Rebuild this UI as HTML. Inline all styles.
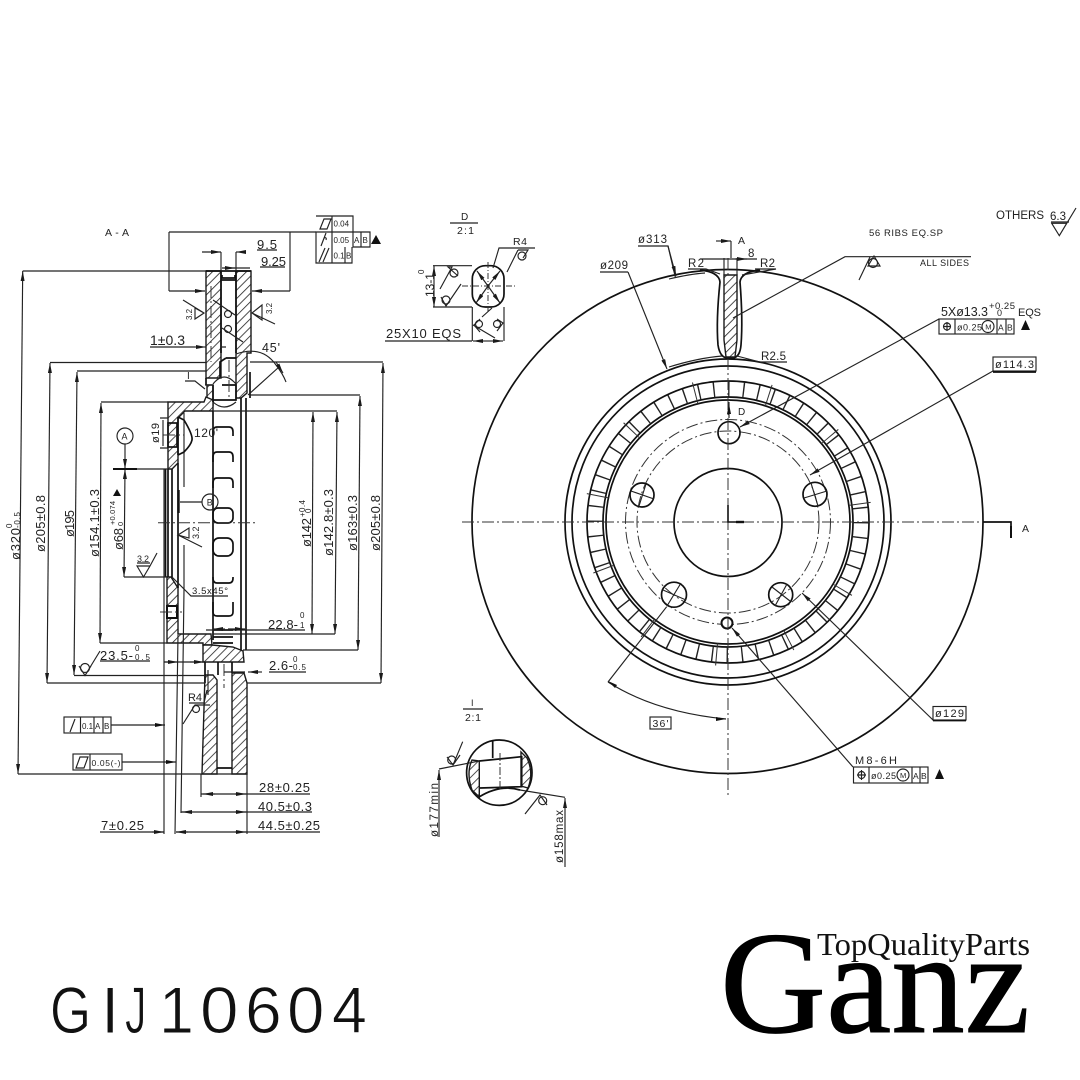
<!DOCTYPE html>
<html><head><meta charset="utf-8"><style>
html,body{margin:0;padding:0;background:#fff}
svg{display:block}
text{font-family:"Liberation Sans",sans-serif;fill:#222}
.l{stroke:#222;stroke-width:1.15;fill:none}
.t{stroke:#111;stroke-width:1.7;fill:none}
.c{stroke:#333;stroke-width:1;fill:none;stroke-dasharray:12 3 2 3}
.h{fill:url(#hat);stroke:#1a1a1a;stroke-width:1.4}
.g{fill:#111;stroke:#fff;stroke-width:.9;paint-order:fill stroke}
</style></head><body>
<svg width="1080" height="1080" viewBox="0 0 1080 1080" xmlns="http://www.w3.org/2000/svg">
<defs>
<pattern id="hat" width="6" height="6" patternUnits="userSpaceOnUse" patternTransform="rotate(45)"><rect width="6" height="6" fill="#fff"/><line x1="0" y1="0" x2="0" y2="6" stroke="#222" stroke-width="1.6"/></pattern>
<marker id="ar" viewBox="0 0 10 4" refX="10" refY="2" markerWidth="10" markerHeight="4" markerUnits="userSpaceOnUse" orient="auto"><path d="M0 0L10 2L0 4Z" fill="#1a1a1a"/></marker>
<marker id="al" viewBox="0 0 10 4" refX="0" refY="2" markerWidth="10" markerHeight="4" markerUnits="userSpaceOnUse" orient="auto"><path d="M10 0L0 2L10 4Z" fill="#1a1a1a"/></marker>
</defs>
<rect width="1080" height="1080" fill="#fff"/>

<!-- ============ SECTION VIEW ============ -->
<g>
<polygon class="h" points="206,271 221,271 221,378 206,378"/>
<polygon class="h" points="236,271 251,271 251,353 247,353 247,393 241,398 236,398"/>
<polygon class="h" points="207,385 213,385 213,405 207,400"/>
<polygon class="h" points="168,402 204,402 206,397 213,400 213,411 185,411 178,418 178,463 172,469 168,469"/>
<polygon class="h" points="167,577 171,577 178,588 178,634 211,634 212,645 203,645 203,643 167,643"/>
<polygon class="h" points="203,645 212,645 233,647 243,651 244,662 203,662"/>
<polygon class="h" points="232,673 244,673 247,683 247,774 232,774"/>
<polygon class="h" points="205,675 213,675 217,680 217,774 202,774"/>
<rect x="168" y="423" width="9" height="24" fill="#fff" class="t"/>
<rect x="167" y="606" width="10" height="12" fill="#fff" stroke="#111" stroke-width="2"/>
<path class="t" d="M206,378V385M221,280H236M222,275V278H235V275M206,271H251M221,271V353M236,271V353M205,662V683M218,662V675M232,662V673M217,768H232M226,358H236M220,378V362L226,358M222,385H236V400H213M213,385V402M213,411V640M241,398V650M246,398V650M250,398V372"/>
<path class="l" d="M213,384Q224,370 236,384M213,402Q224,412 236,402M205,385H213"/>
<path class="t" d="M168,469V577M172,469V577M178,463V588M165.5,469V577"/>
<path d="M178.5,490V513" stroke="#111" stroke-width="2.4"/>
<path class="l" d="M184,413V487M184,545V590"/>
<path class="t" d="M213,436V432Q213,427 217,427H229Q233,427 233,432V436M213,462V457Q213,452 217,452H229Q233,452 233,457V462M213,488V483Q213,478 217,478H229Q233,478 233,483V488"/>
<rect x="213" y="508" width="20" height="15" rx="5" fill="#fff" class="t"/>
<rect x="213" y="538" width="20" height="18" rx="6" fill="#fff" class="t"/>
<path class="t" d="M213,577V578Q213,583 217,583H229Q233,583 233,578V577M213,602V612Q213,616 217,616H229Q233,616 233,612V602M213,630H233M213,637H233M213,643H233"/>
<path class="t" d="M178,417L184,420Q193,435 192,440Q191,445 184,452L178,455M178,417V455"/>
<path class="c" d="M158,522.7H257M163,435H184M160,612H182M224,664V688M229,360V400M211,286V362"/>

<!-- dimension lines -->
<path class="l" d="M22.7,271H206M18,774H247M50,362.5H206M47,683H205M77,371H206M74,675.5H205M101,402H168M100,643H167M383,362H250M381,683H247M360,395H250M358,650H243M337,411H213M335,634H213M312,634H213"/>
<line class="l" x1="22.7" y1="271" x2="18" y2="774" marker-start="url(#al)" marker-end="url(#ar)"/>
<line class="l" x1="50" y1="363" x2="47" y2="683" marker-start="url(#al)" marker-end="url(#ar)"/>
<line class="l" x1="77" y1="372" x2="74" y2="675" marker-start="url(#al)" marker-end="url(#ar)"/>
<line class="l" x1="101" y1="403" x2="100" y2="643" marker-start="url(#al)" marker-end="url(#ar)"/>
<line class="l" x1="125" y1="444" x2="125" y2="469" marker-end="url(#ar)"/>
<line class="l" x1="125" y1="469" x2="124" y2="577" marker-start="url(#al)" marker-end="url(#ar)"/>
<path class="l" d="M124,577H167"/>
<path d="M113,469H137" stroke="#111" stroke-width="2"/>
<path class="l" d="M137,469H168"/>
<line class="l" x1="313" y1="412" x2="312" y2="634" marker-start="url(#al)" marker-end="url(#ar)"/>
<line class="l" x1="337" y1="412" x2="335" y2="634" marker-start="url(#al)" marker-end="url(#ar)"/>
<line class="l" x1="360" y1="396" x2="358" y2="650" marker-start="url(#al)" marker-end="url(#ar)"/>
<line class="l" x1="383" y1="363" x2="381" y2="683" marker-start="url(#al)" marker-end="url(#ar)"/>

<!-- top dims -->
<path class="l" d="M221,252V270M236,252V270M169,232H316M169,232V291M290,232V291M257,250H277M260,267H285M222,268H250"/>
<line class="l" x1="202" y1="252" x2="221" y2="252" marker-end="url(#ar)"/>
<line class="l" x1="246" y1="252" x2="236" y2="252" marker-end="url(#ar)"/>
<line class="l" x1="224" y1="268" x2="235" y2="268" marker-end="url(#ar)"/>
<line class="l" x1="169" y1="291" x2="205" y2="291" marker-end="url(#ar)"/>
<line class="l" x1="290" y1="291" x2="252" y2="291" marker-end="url(#ar)"/>
<path class="l" d="M150,347H195M221,347H226"/>
<line class="l" x1="195" y1="347" x2="206" y2="347" marker-end="url(#ar)"/>
<path class="l" d="M236,354Q262,345 276,365Q283,374 286,382M185,381H195L205,389M248,395L279,367"/>
<line class="l" x1="276" y1="362" x2="283" y2="373" marker-end="url(#ar)"/>

<!-- roughness symbols section -->
<path class="l" d="M183,300L204,313M195,308L204,313L195,319ZM252,313L275,324M252,313L262,305V320ZM213,300L235,315M222,328L243,342"/>
<circle class="l" cx="228" cy="314" r="3.5"/><circle class="l" cx="228" cy="329" r="3.5"/>
<path class="l" d="M178,535L202,547M178,535L189,528V538Z"/>
<path class="l" d="M137,563H150M137,566H150L143.5,577ZM150,566L157,553"/>

<!-- ø19 & A, B -->
<path class="l" d="M160,418H168M160,448H168M163,420V446"/>
<circle class="l" cx="125" cy="436" r="8"/>
<circle class="l" cx="210" cy="502" r="8"/>
<path class="l" d="M180,502H202"/>
<!-- lower dims -->
<path class="l" d="M164,469L164,834M178,635L175,834M184,590L181,813M201,774V797M247,774V834"/>
<path class="l" d="M164,662H203"/>
<line class="l" x1="164" y1="662" x2="178" y2="662" marker-end="url(#ar)"/>
<line class="l" x1="190" y1="662" x2="204" y2="662" marker-end="url(#ar)"/>
<path class="l" d="M100,661H150M268,630H305M206,630H268"/>
<line class="l" x1="225" y1="629" x2="213" y2="629" marker-end="url(#ar)"/>
<line class="l" x1="228" y1="629" x2="245" y2="629" marker-end="url(#ar)"/>
<path class="l" d="M269,672H306M224,672H245"/>
<line class="l" x1="262" y1="672" x2="248" y2="672" marker-end="url(#ar)"/>
<path class="l" d="M201,794H310M181,812H312M176,832H320M100,832H164"/>
<line class="l" x1="215" y1="794" x2="203" y2="794" marker-end="url(#ar)"/>
<line class="l" x1="235" y1="794" x2="246" y2="794" marker-end="url(#ar)"/>
<line class="l" x1="192" y1="812" x2="182" y2="812" marker-end="url(#ar)"/>
<line class="l" x1="235" y1="812" x2="246" y2="812" marker-end="url(#ar)"/>
<line class="l" x1="188" y1="832" x2="176" y2="832" marker-end="url(#ar)"/>
<line class="l" x1="235" y1="832" x2="246" y2="832" marker-end="url(#ar)"/>
<line class="l" x1="152" y1="832" x2="164" y2="832" marker-end="url(#ar)"/>
<path class="l" d="M172,577L191,596H228"/>
<path class="l" d="M208,670V695M189,703H204L207,690M183,724L195,705H210"/>
<circle class="l" cx="196" cy="709" r="3.5"/>
<path class="l" d="M85,675.5L100,651M79,666L85,675.5L91,666"/>
<circle class="l" cx="85" cy="668" r="4.5"/>

<!-- frames left -->
<path class="l" d="M316,216H353V247H370V232H316V263H352V247M332,216V263M345,247V263M361,232V247"/>
<path d="M320,229L324,219H331L327,229Z" class="l"/>
<path class="l" d="M321,246L326,233M324,238Q327,237 326,240M319,262L325,248M323,262L329,248"/>
<polygon points="371,244 381,244 376,235" fill="#111"/>
<rect class="l" x="64" y="717" width="47" height="16"/>
<path class="l" d="M80.5,717V733M94,717V733M103,717V733M111,725H165M70,732L75,719"/>
<rect class="l" x="73" y="754" width="49" height="16"/>
<path class="l" d="M90,754V770M122,762H176M76,768L80,757H88L84,768Z"/>
<polygon points="155,723 165,725 155,727" fill="#111"/><polygon points="166,760 176,762 166,764" fill="#111"/>
<polygon points="113,496 121,496 117,489" fill="#111"/>
</g>

<!-- ============ FRONT VIEW ============ -->
<g>
<ellipse class="t" cx="727.5" cy="521.5" rx="255.5" ry="252"/>
<circle class="t" cx="728" cy="522" r="163"/>
<circle class="t" cx="728" cy="522" r="156"/>
<circle class="t" cx="728" cy="522" r="141"/>
<circle class="t" cx="728" cy="522" r="125"/>
<circle class="t" cx="728" cy="522" r="122"/>
<circle cx="728" cy="522" r="133" fill="none" stroke="#222" stroke-width="15" stroke-dasharray="1.4 13.52"/>
<circle cx="728" cy="522" r="133" fill="none" stroke="#333" stroke-width="22" stroke-dasharray="1 73.6" stroke-dashoffset="4"/>
<circle class="c" cx="728" cy="522" r="102.5" stroke-dasharray="14 3 2 3"/>
<circle class="c" cx="728" cy="522" r="91" stroke-dasharray="14 3 2 3"/>
<circle class="t" cx="728" cy="522.5" r="54"/>
<circle class="t" cx="729" cy="432.7" r="11" fill="#fff"/>
<circle class="t" cx="642" cy="495" r="12" fill="#fff"/>
<circle class="t" cx="815" cy="494.3" r="12" fill="#fff"/>
<circle class="t" cx="674" cy="594.7" r="12.5" fill="#fff"/>
<circle class="t" cx="780.7" cy="594.7" r="12" fill="#fff"/>
<circle cx="727" cy="623" r="5.5" fill="#fff" stroke="#111" stroke-width="2"/>
<path class="c" d="M462,522H983M728,258V795"/>
<path class="l" d="M631,491L654,499M646,484L639,506M804,498L827,491M811,483L818,506M667,606L681,583M663,590L686,600M772,587L790,601M775,606L787,584"/>
<path d="M728,505V522H744" fill="none" stroke="#111" stroke-width="1.6"/>
<path d="M736,522H744" stroke="#111" stroke-width="2.4"/>
<!-- A arrows -->
<path class="t" d="M983,522H1011V526"/>
<line x1="1011" y1="526" x2="1011" y2="538" stroke="#111" stroke-width="2"/>
<path class="l" d="M731,241V258"/>
<line class="l" x1="716" y1="241" x2="731" y2="241" marker-end="url(#ar)"/>
<!-- rib -->
<path class="t" d="M700,270Q719,272 720,282Q716,320 718,345Q720,358 728,358H733Q740,357 741,345Q743,320 740,282Q741,272 760,270"/>
<polygon class="h" points="724,275 737,275 737,340 735,357 726,357 724,340"/>
<path class="l" d="M724,258V275M737,258V275M700,259H757"/>
<line class="l" x1="735" y1="259" x2="747" y2="259" marker-end="url(#ar)"/>
<path class="l" d="M669,367Q698,358 722,356M737,356L760,362H787M688,269H706L720,274M755,269H776L742,275"/>
<!-- leaders -->
<path class="l" d="M638,246H668L675.5,278M669,279Q690,274 705,273M600,272H628"/>
<line class="l" x1="628" y1="272" x2="667" y2="369" marker-end="url(#ar)"/>
<line class="l" x1="668" y1="246" x2="676" y2="276" marker-end="url(#ar)"/>
<path class="l" d="M971,256.7H845L733,318"/>
<path class="l" d="M859,280L870,257"/>
<circle class="l" cx="873" cy="263" r="4.5"/>
<path class="l" d="M868,266H880L874,256Z"/>
<line class="l" x1="939" y1="319" x2="740" y2="427" marker-end="url(#ar)"/>
<line class="l" x1="993" y1="371" x2="810" y2="475" marker-end="url(#ar)"/>
<line class="l" x1="933" y1="720" x2="802" y2="593" marker-end="url(#ar)"/>
<line class="l" x1="853" y1="767" x2="732" y2="628" marker-end="url(#ar)"/>
<path class="l" d="M666.7,606.7L608,682"/>
<path class="l" d="M608,682Q655,712 726,719"/>
<polygon points="608,681 617,685 615,688" fill="#111"/>
<polygon points="716,717 726,719 716,721" fill="#111"/>
<path class="l" d="M729,402V418"/>
<polygon points="727,414 731,414 729,404" fill="#111"/>
<!-- frames right -->
<rect class="l" x="939" y="319" width="75" height="15"/>
<path class="l" d="M955,319V334M997,319V334M1006,319V334M943,326.5H951M947,322V331"/>
<circle class="l" cx="947" cy="326.5" r="3.5"/><circle class="l" cx="988" cy="326.5" r="6"/>
<polygon points="1021,330 1030,330 1025.5,320" fill="#111"/>
<rect class="l" x="993" y="357" width="43" height="14"/>
<path class="t" d="M993,372H1036"/>
<rect class="l" x="933" y="706.5" width="33" height="13.5"/>
<path class="t" d="M933,720.5H966"/>
<rect class="l" x="853.5" y="767" width="74.5" height="16"/>
<path class="l" d="M869,767V783M912,767V783M920,767V783M857,775H866M861.5,770V780"/>
<circle class="l" cx="861.5" cy="775" r="3.5"/><circle class="l" cx="903" cy="775" r="6"/>
<polygon points="935,779 944,779 939.5,769" fill="#111"/>
<rect class="l" x="650" y="717" width="21" height="12"/>
<!-- others -->
<path class="l" d="M1051,222H1069M1051.7,223.3H1066.7L1059.3,235.7ZM1059.3,235.7L1076,208"/>
</g>

<!-- ============ DETAIL D ============ -->
<g>
<path class="l" d="M450,223H478"/>
<rect class="t" x="472.3" y="265.7" width="31.7" height="41.3" rx="13"/>
<path class="c" style="stroke-dasharray:6 2 1 2" d="M462,286H516M488,262V312"/>
<line class="l" x1="488" y1="286" x2="477" y2="271" marker-end="url(#ar)"/>
<line class="l" x1="488" y1="286" x2="500" y2="271" marker-end="url(#ar)"/>
<line class="l" x1="488" y1="286" x2="476" y2="303" marker-end="url(#ar)"/>
<line class="l" x1="488" y1="286" x2="500" y2="303" marker-end="url(#ar)"/>
<path class="l" d="M493,268L499,248H535M507,272L518,250M518,250H528L523,258"/>
<circle class="l" cx="522" cy="256" r="4"/>
<path class="l" d="M433,265.7H472M433,307H472"/>
<line class="l" x1="434" y1="286" x2="434" y2="266" marker-end="url(#ar)"/>
<line class="l" x1="434" y1="286" x2="434" y2="307" marker-end="url(#ar)"/>
<path class="l" d="M440,289L452,267H448L458,276M461,284L446,306L441,297"/>
<circle class="l" cx="454" cy="273" r="4"/><circle class="l" cx="446" cy="300" r="4"/>
<path class="l" d="M472.3,307V341M504,307V341M385,341H472"/>
<line class="l" x1="488" y1="341" x2="473" y2="341" marker-end="url(#ar)"/>
<line class="l" x1="488" y1="341" x2="503" y2="341" marker-end="url(#ar)"/>
<path class="l" d="M482,317L492,308M480,319L474,325L480,332M495,338L473,325M497,319L503,323L497,331"/>
<circle class="l" cx="479" cy="324" r="3.5"/><circle class="l" cx="497" cy="324" r="3.5"/>
</g>

<!-- ============ DETAIL I ============ -->
<g>
<path class="l" d="M463,709H483"/>
<circle class="t" cx="499.3" cy="772.7" r="32.7"/>
<path class="h" d="M479.3,761V797L472,790Q466,773 472,760Z"/>
<path class="h" d="M521,752L527,758Q534,773 528,788L521,786Z"/>
<path class="t" d="M479.3,761L521.7,756.7V786.7L480,788M492.7,740V758M479,797Q500,784 520,790"/>
<path class="c" style="stroke-dasharray:8 2 2 2" d="M500,753V790"/>
<path class="l" d="M439,769L479.3,761M520,790L565,797.3M453,765L462.7,741.7M447,757L453,765L460,755"/>
<circle class="l" cx="451.7" cy="760" r="4"/>
<circle class="l" cx="542.7" cy="800.7" r="4"/>
<path class="l" d="M525,814L540,795L547,805"/>
<line class="l" x1="439" y1="837" x2="439" y2="770" marker-end="url(#ar)"/>
<line class="l" x1="565" y1="867" x2="565" y2="798" marker-end="url(#ar)"/>
</g>

<!-- ============ TEXT ============ -->
<g font-size="13">
<text x="105" y="236" font-size="10.5" textLength="24">A-A</text>
<text x="257" y="249" textLength="20">9.5</text>
<text x="261" y="266" textLength="25">9.25</text>
<text x="150" y="345" font-size="14" textLength="35">1±0.3</text>
<text x="262" y="352" font-size="12.5" textLength="18">45'</text>
<text x="187" y="379" font-size="10">I</text>
<text x="121.5" y="439.5" font-size="9">A</text>
<text x="206.8" y="505.5" font-size="9">B</text>
<text x="194" y="437" font-size="12" textLength="24">120'</text>
<text x="333.5" y="226.5" font-size="8">0.04</text>
<text x="333.5" y="243" font-size="8">0.05</text>
<text x="354" y="243" font-size="8">A</text>
<text x="362.5" y="243" font-size="8">B</text>
<text x="333.5" y="258.5" font-size="8">0.1</text>
<text x="346" y="258.5" font-size="8">B</text>
<text transform="rotate(-90 159 443)" x="159" y="443" font-size="11" textLength="20">ø19</text>

<text transform="rotate(-90 20 560)" x="20" y="560" textLength="32">ø320</text>
<text transform="rotate(-90 12 528)" x="12" y="528" font-size="8">0</text>
<text transform="rotate(-90 20 528)" x="20" y="528" font-size="8" textLength="16">-0.5</text>
<text transform="rotate(-90 45 552)" x="45" y="552" textLength="57">ø205±0.8</text>
<text transform="rotate(-90 74 537)" x="74" y="537" textLength="27">ø195</text>
<text transform="rotate(-90 99 557)" x="99" y="557" textLength="68">ø154.1±0.3</text>
<text transform="rotate(-90 123 550)" x="123" y="550" textLength="22">ø68</text>
<text transform="rotate(-90 115 525)" x="115" y="525" font-size="7.5" textLength="24">+0.074</text>
<text transform="rotate(-90 123 526)" x="123" y="526" font-size="7.5">0</text>
<text transform="rotate(-90 311 547)" x="311" y="547" textLength="29">ø142</text>
<text transform="rotate(-90 305 517)" x="305" y="517" font-size="8" textLength="17">+0.4</text>
<text transform="rotate(-90 311 513)" x="311" y="513" font-size="8">0</text>
<text transform="rotate(-90 333 556)" x="333" y="556" textLength="67">ø142.8±0.3</text>
<text transform="rotate(-90 357 551)" x="357" y="551" textLength="56">ø163±0.3</text>
<text transform="rotate(-90 380 551)" x="380" y="551" textLength="56">ø205±0.8</text>

<text transform="rotate(-90 199 539)" x="199" y="539" font-size="9">3.2</text>
<text x="137" y="562" font-size="9" textLength="12">3.2</text>
<text transform="rotate(-90 192 320)" x="192" y="320" font-size="8">3.2</text>
<text transform="rotate(-90 272 314)" x="272" y="314" font-size="8">3.2</text>

<text x="192" y="594" font-size="9.5" textLength="36">3.5x45°</text>
<text x="100" y="660" textLength="33">23.5-</text>
<text x="135" y="651" font-size="8">0</text>
<text x="135" y="660" font-size="8" textLength="15">0.5</text>
<text x="268" y="629" textLength="30">22.8-</text>
<text x="300" y="618" font-size="8">0</text>
<text x="300" y="628" font-size="8">1</text>
<text x="269" y="670" textLength="24">2.6-</text>
<text x="293" y="662" font-size="8">0</text>
<text x="293" y="670" font-size="8" textLength="13">0.5</text>
<text x="188" y="701" font-size="11" textLength="14">R4</text>
<text x="82" y="729" font-size="8">0.1</text>
<text x="95" y="729" font-size="8">A</text>
<text x="104" y="729" font-size="8">B</text>
<text x="91.5" y="766" font-size="8.5" textLength="29">0.05(-)</text>
<text x="259" y="792" textLength="51">28±0.25</text>
<text x="258" y="811" textLength="54">40.5±0.3</text>
<text x="258" y="830" textLength="62">44.5±0.25</text>
<text x="101" y="830" textLength="43">7±0.25</text>

<text x="461" y="220" font-size="10">D</text>
<text x="457" y="234" font-size="10.5" textLength="17">2:1</text>
<text x="513" y="245" font-size="10.5" textLength="14">R4</text>
<text transform="rotate(-90 434 297)" x="434" y="297" font-size="12" textLength="24">13-1</text>
<text transform="rotate(-90 424 274)" x="424" y="274" font-size="8">0</text>
<text x="386" y="338" textLength="75">25X10  EQS</text>

<text x="471" y="706" font-size="9">I</text>
<text x="465" y="721" font-size="10.5" textLength="16">2:1</text>
<text transform="rotate(-90 438 837)" x="438" y="837" font-size="11.5" textLength="54">ø177min</text>
<text transform="rotate(-90 563 863)" x="563" y="863" font-size="11.5" textLength="53">ø158max</text>

<text x="638" y="243" font-size="11.5" textLength="29">ø313</text>
<text x="600" y="269" font-size="11.5" textLength="28">ø209</text>
<text x="688" y="267" font-size="11.5" textLength="16">R2</text>
<text x="760" y="267" font-size="11.5" textLength="15">R2</text>
<text x="738" y="244" font-size="10.5">A</text>
<text x="748" y="257" font-size="11.5">8</text>
<text x="761" y="360" font-size="11.5" textLength="25">R2.5</text>
<text x="869" y="236" font-size="9.5" textLength="74">56  RIBS  EQ.SP</text>
<text x="920" y="266" font-size="9" textLength="49">ALL  SIDES</text>
<text x="996" y="219" font-size="11.5" textLength="48">OTHERS</text>
<text x="1050" y="220" font-size="11.5" textLength="16">6.3</text>
<text x="941" y="316" font-size="12.5" textLength="47">5Xø13.3</text>
<text x="989" y="309" font-size="9.5" textLength="26">+0.25</text>
<text x="997" y="316" font-size="9">0</text>
<text x="1018" y="316" font-size="11" textLength="23">EQS</text>
<text x="957" y="330.5" font-size="9" textLength="25">ø0.25</text>
<text x="985.3" y="329.5" font-size="7.5">M</text>
<text x="998" y="330.5" font-size="8.5">A</text>
<text x="1007" y="330.5" font-size="8.5">B</text>
<text x="995" y="368" font-size="11" textLength="39">ø114.3</text>
<text x="935" y="717" font-size="11" textLength="29">ø129</text>
<text x="738" y="415" font-size="10">D</text>
<text x="1022" y="532" font-size="10.5">A</text>
<text x="652.5" y="727" font-size="10.5" textLength="16">36'</text>
<text x="855" y="764" font-size="11" textLength="42">M8-6H</text>
<text x="871" y="779" font-size="9" textLength="25">ø0.25</text>
<text x="900" y="778" font-size="7.5">M</text>
<text x="913" y="779" font-size="8.5">A</text>
<text x="921" y="779" font-size="8.5">B</text>
</g>

<!-- ============ BRAND ============ -->
<g font-size="66">
<text class="g" transform="translate(50,1033) scale(.8,1)">G</text>
<text class="g" transform="translate(101,1033)">I</text>
<text class="g" transform="translate(125,1033) scale(.65,1)">J</text>
<text class="g" transform="translate(159,1033) scale(.95,1)">1</text>
<text class="g" transform="translate(200,1033) scale(1.05,1)">0</text>
<text class="g" transform="translate(245,1033)">6</text>
<text class="g" transform="translate(287,1033) scale(1.02,1)">0</text>
<text class="g" transform="translate(332,1033) scale(.95,1)">4</text>
</g>
<text x="720" y="1032" font-size="146" textLength="310" lengthAdjust="spacingAndGlyphs" style="font-family:'Liberation Serif',serif;fill:#000;stroke:#000;stroke-width:1">Ganz</text>
<text x="817" y="955" font-size="32" textLength="213" lengthAdjust="spacingAndGlyphs" style="font-family:'Liberation Serif',serif;fill:#111">TopQualityParts</text>
</svg>
</body></html>
